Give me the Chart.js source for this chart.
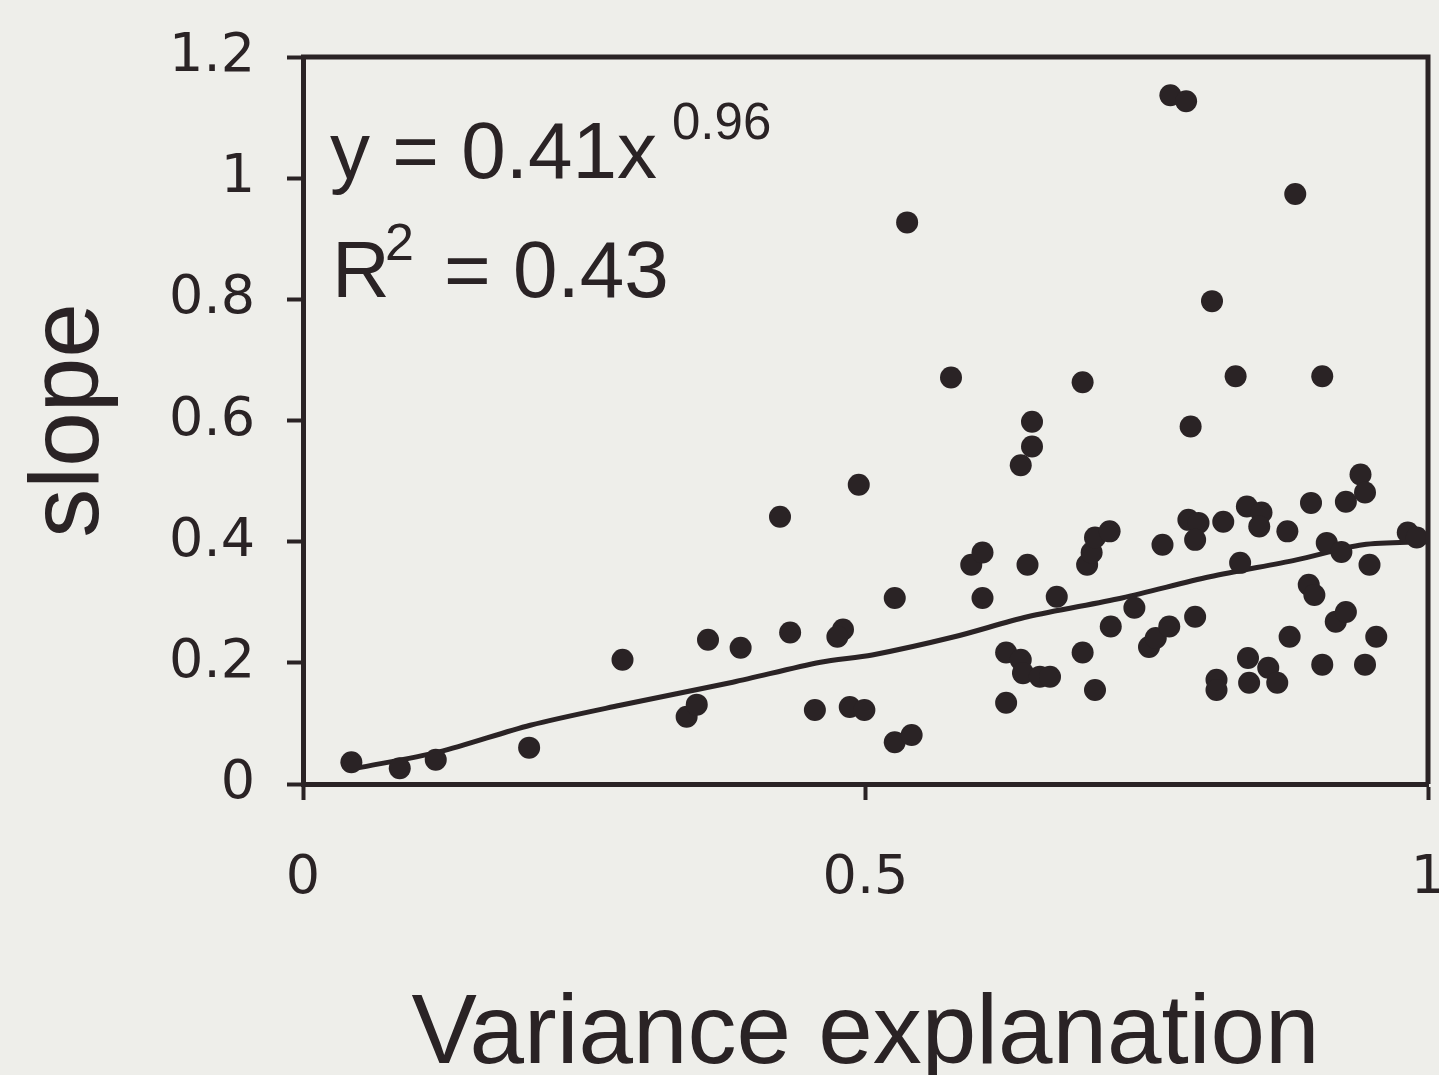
<!DOCTYPE html>
<html>
<head>
<meta charset="utf-8">
<title>slope vs variance explanation</title>
<script src="https://cdn.jsdelivr.net/npm/chart.js@4/dist/chart.umd.min.js"></script>
<style>
  html, body { margin: 0; padding: 0; background: #eeeeea; overflow: hidden; }
  #wrap { position: relative; width: 1439px; height: 1075px; }
</style>
</head>
<body>
<div id="wrap"><canvas id="slopeChart"></canvas></div>
<script>
// punti: x = variance explanation, y = slope
const varianceX = [
  0.043, 0.086, 0.118, 0.201, 0.284, 0.341, 0.350, 0.360, 0.389, 0.424,
  0.433, 0.455, 0.480, 0.475, 0.486, 0.499, 0.494, 0.526, 0.526, 0.541,
  0.537, 0.576, 0.594, 0.604, 0.604, 0.625, 0.625, 0.638, 0.640, 0.655,
  0.664, 0.638, 0.648, 0.648, 0.644, 0.670, 0.693, 0.693, 0.704, 0.697,
  0.701, 0.704, 0.717, 0.718, 0.739, 0.752, 0.758, 0.770, 0.764, 0.771,
  0.785, 0.789, 0.787, 0.796, 0.793, 0.793, 0.808, 0.812, 0.812, 0.818,
  0.829, 0.833, 0.839, 0.852, 0.850, 0.840, 0.858, 0.841, 0.866, 0.875,
  0.877, 0.882, 0.896, 0.894, 0.899, 0.906, 0.906, 0.910, 0.923, 0.918,
  0.927, 0.927, 0.940, 0.944, 0.948, 0.944, 0.954, 0.982, 0.990
];
const slopeY = [
  0.036, 0.026, 0.040, 0.060, 0.205, 0.111, 0.131, 0.238, 0.225, 0.441,
  0.250, 0.122, 0.255, 0.243, 0.127, 0.122, 0.494, 0.307, 0.069, 0.081,
  0.927, 0.671, 0.362, 0.382, 0.307, 0.134, 0.217, 0.205, 0.183, 0.177,
  0.177, 0.526, 0.557, 0.598, 0.362, 0.309, 0.663, 0.217, 0.155, 0.362,
  0.382, 0.407, 0.417, 0.260, 0.291, 0.226, 0.241, 0.260, 0.395, 1.137,
  1.127, 0.590, 0.436, 0.431, 0.403, 0.276, 0.797, 0.172, 0.155, 0.433,
  0.673, 0.365, 0.458, 0.448, 0.425, 0.208, 0.192, 0.167, 0.167, 0.417,
  0.243, 0.974, 0.464, 0.329, 0.312, 0.673, 0.197, 0.398, 0.383, 0.268,
  0.284, 0.466, 0.511, 0.481, 0.362, 0.197, 0.243, 0.415, 0.407
];

const trendX = [0.047, 0.121, 0.202, 0.282, 0.382, 0.460, 0.506, 0.579, 0.644, 0.728, 0.806, 0.883, 0.942, 1.0];
const trendY = [0.026, 0.053, 0.097, 0.130, 0.168, 0.201, 0.213, 0.243, 0.276, 0.307, 0.342, 0.370, 0.395, 0.400];

const xTicks = [0, 0.5, 1];
const yTicks = [0, 0.2, 0.4, 0.6, 0.8, 1, 1.2];

const eqMain = 'y = 0.41x';
const eqPower = '0.96';
const r2Base = 'R';
const r2Sup = '2';
const r2Rest = '= 0.43';

const ink = '#2a2325';
const paper = '#eeeeea';

// sfondo, cornice superiore/destra ed equazione
const paperAndFrame = {
  id: 'paperAndFrame',
  beforeDraw(chart) {
    const ctx = chart.ctx;
    ctx.save();
    ctx.fillStyle = paper;
    ctx.fillRect(0, 0, chart.width, chart.height);
    ctx.restore();
  },
  afterDraw(chart) {
    const { ctx, chartArea: a } = chart;
    ctx.save();
    ctx.strokeStyle = ink;
    ctx.lineWidth = 5;
    ctx.beginPath();
    ctx.moveTo(a.left - 2, a.top);
    ctx.lineTo(a.right, a.top);
    ctx.lineTo(a.right, a.bottom);
    ctx.stroke();

    ctx.fillStyle = ink;
    ctx.textBaseline = 'alphabetic';
    ctx.textAlign = 'left';
    ctx.font = '80px "Liberation Sans", Arial, sans-serif';
    ctx.fillText(eqMain, a.left + 27, 178);
    ctx.fillText(r2Base, a.left + 29, 297);
    ctx.fillText(r2Rest, a.left + 141, 297);
    ctx.font = '51px "Liberation Sans", Arial, sans-serif';
    ctx.fillText(eqPower, a.left + 369, 139);
    ctx.font = '52px "Liberation Sans", Arial, sans-serif';
    ctx.fillText(r2Sup, a.left + 82, 260);
    ctx.restore();
  }
};

const tickFont = { family: '"DejaVu Sans", sans-serif', size: 54 };
const titleFont = { family: '"Liberation Sans", Arial, sans-serif', size: 98 };
const tickLabel = v => String(Math.round(v * 10) / 10);

const ctx = document.getElementById('slopeChart').getContext('2d');
new Chart(ctx, {
  data: {
    datasets: [
      {
        type: 'scatter',
        data: varianceX.map((x, i) => ({ x: x, y: slopeY[i] })),
        backgroundColor: ink,
        borderWidth: 0,
        pointRadius: 11,
        pointHoverRadius: 11
      },
      {
        type: 'line',
        data: trendX.map((x, i) => ({ x: x, y: trendY[i] })),
        borderColor: ink,
        borderWidth: 5,
        pointRadius: 0,
        fill: false,
        tension: 0.3
      }
    ]
  },
  options: {
    responsive: true,
    maintainAspectRatio: false,
    animation: false,
    layout: { padding: { top: 57, right: 3, left: 0, bottom: 0 } },
    plugins: { legend: { display: false }, tooltip: { enabled: false } },
    scales: {
      x: {
        type: 'linear',
        min: 0,
        max: 1,
        afterBuildTicks: s => { s.ticks = xTicks.map(v => ({ value: v })); },
        ticks: { color: ink, font: tickFont, padding: 47, maxRotation: 0, callback: tickLabel },
        grid: { drawOnChartArea: false, drawTicks: true, tickLength: 16, tickWidth: 4, tickColor: ink },
        border: { display: true, color: ink, width: 5 },
        title: { display: true, text: 'Variance explanation', color: ink, font: { ...titleFont, lineHeight: 0.8 }, padding: 0 },
        afterFit: s => { s.height = 291; s.paddingLeft = 0; s.paddingRight = 0; }
      },
      y: {
        type: 'linear',
        min: 0,
        max: 1.2,
        afterBuildTicks: s => { s.ticks = yTicks.map(v => ({ value: v })); },
        ticks: { color: ink, font: tickFont, padding: 32, callback: tickLabel },
        grid: { drawOnChartArea: false, drawTicks: true, tickLength: 16, tickWidth: 4, tickColor: ink },
        border: { display: true, color: ink, width: 5 },
        title: { display: true, text: 'slope', color: ink, font: { ...titleFont, lineHeight: 1.45 }, padding: 0 },
        afterFit: s => { s.width = 303; s.paddingTop = 0; s.paddingBottom = 0; }
      }
    }
  },
  plugins: [paperAndFrame]
});
</script>
</body>
</html>
